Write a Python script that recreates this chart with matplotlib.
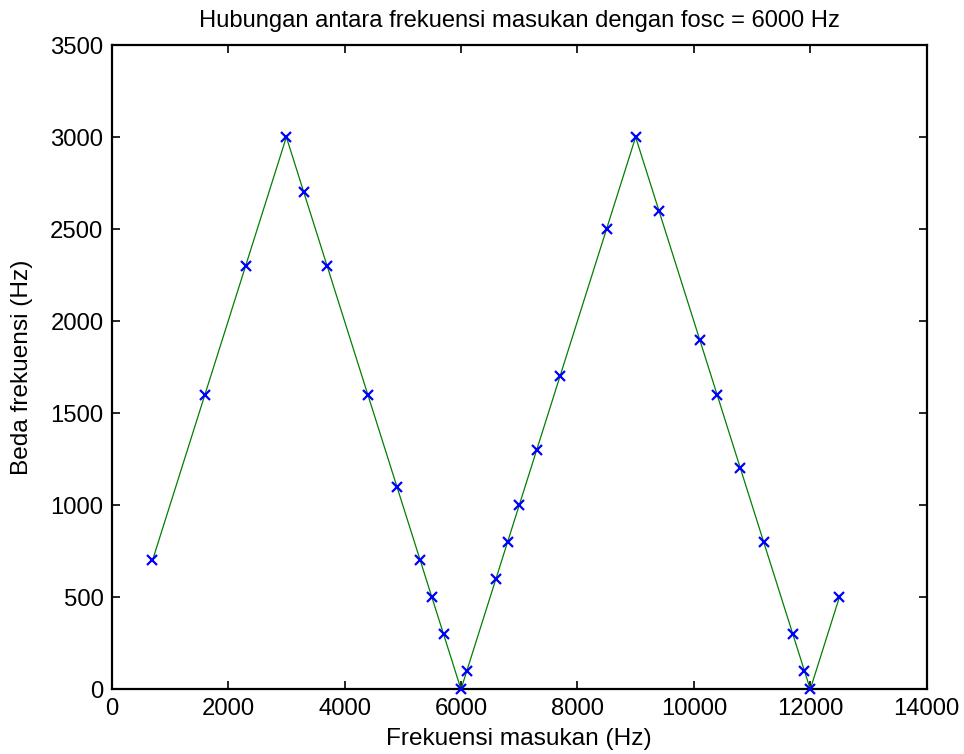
import matplotlib
matplotlib.use("Agg")
import matplotlib.pyplot as plt

# frekuensi masukan (Hz) and beda frekuensi (Hz)
freq_in = [700, 1600, 2300, 3000, 3300, 3700, 4400, 4900, 5300, 5500, 5700, 6000,
           6100, 6600, 6800, 7000, 7300, 7700, 8500, 9000, 9400, 10100, 10400,
           10800, 11200, 11700, 11900, 12000, 12500]
beda = [700, 1600, 2300, 3000, 2700, 2300, 1600, 1100, 700, 500, 300, 0,
        100, 600, 800, 1000, 1300, 1700, 2500, 3000, 2600, 1900, 1600,
        1200, 800, 300, 100, 0, 500]

xticks = list(range(0, 14001, 2000))
yticks = list(range(0, 3501, 500))

plt.rcParams['font.family'] = ['Liberation Sans', 'DejaVu Sans']

fig = plt.figure(figsize=(9.64, 7.54), dpi=100)
ax = fig.add_axes([0.1159, 0.0858, 0.8454, 0.8545])

ax.plot(freq_in, beda, color=(0, 0.5, 0), linewidth=0.9, zorder=2)
ax.plot(freq_in, beda, linestyle='none', marker='x', color='blue',
        markersize=6.5, markeredgewidth=1.6, zorder=3, clip_on=False)

ax.set_xlim(0, 14000)
ax.set_ylim(0, 3500)
ax.set_xticks(xticks)
ax.set_yticks(yticks)
ax.tick_params(direction='in', length=6, width=1.2, top=True, right=True,
               labelsize=17.2, pad=6)
for s in ax.spines.values():
    s.set_linewidth(1.6)

ax.set_title('Hubungan antara frekuensi masukan dengan fosc = 6000 Hz',
             fontsize=17.1, pad=13)
ax.set_xlabel('Frekuensi masukan (Hz)', fontsize=17.6, labelpad=6)
ax.set_ylabel('Beda frekuensi (Hz)', fontsize=17.6, labelpad=12)

fig.savefig('out.png', dpi=100, facecolor='white')
